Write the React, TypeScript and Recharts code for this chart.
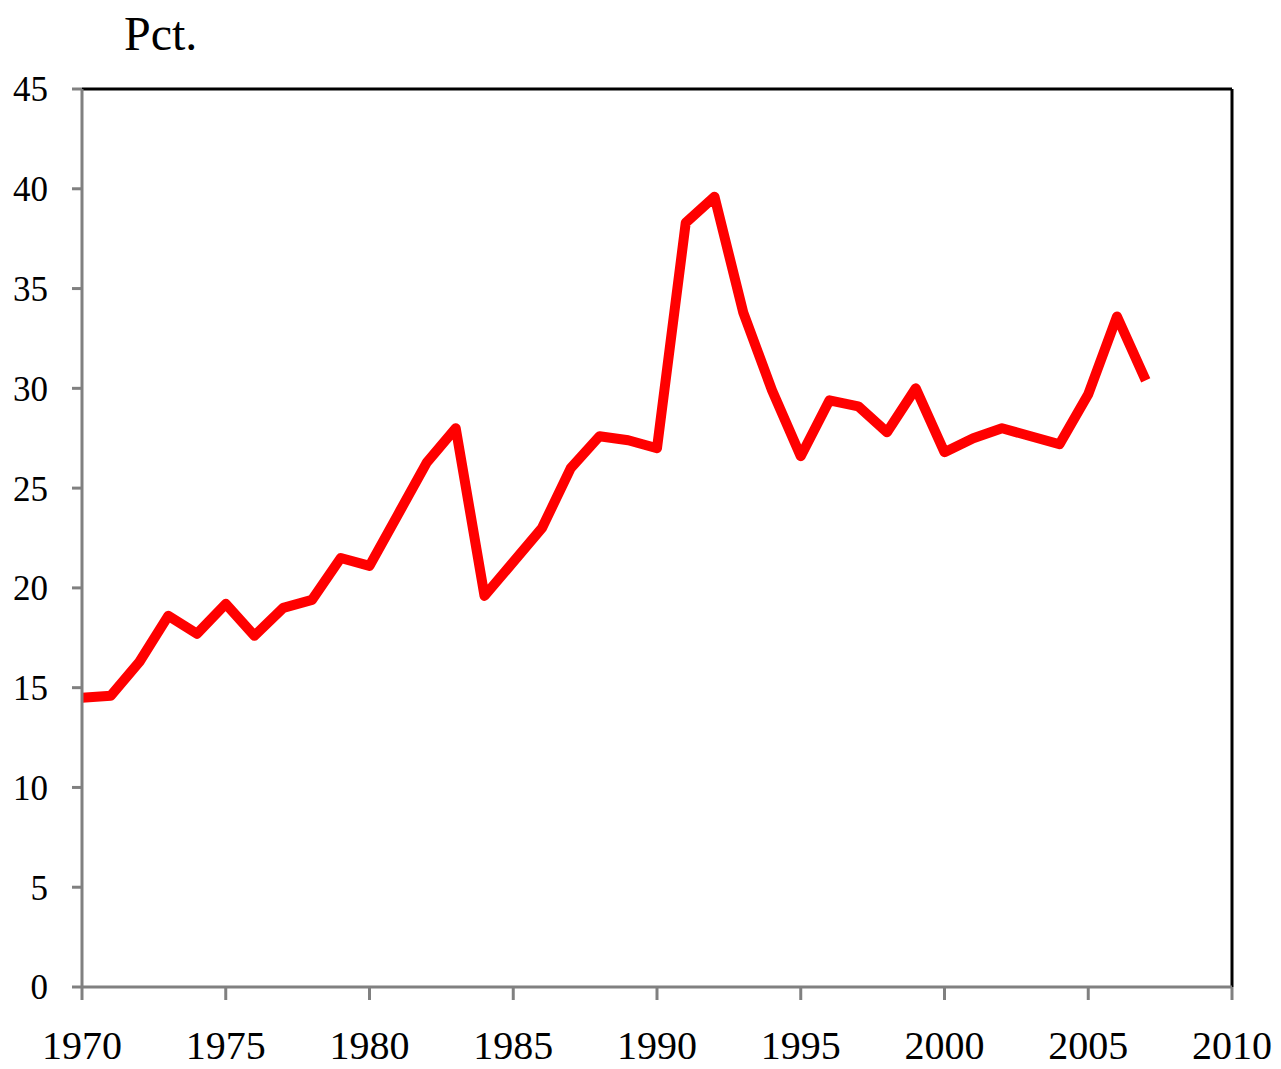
import React from "react";
import { LineChart, Line, XAxis, YAxis, ReferenceLine } from "recharts";

const years = [
  1970, 1971, 1972, 1973, 1974, 1975, 1976, 1977, 1978, 1979,
  1980, 1981, 1982, 1983, 1984, 1985, 1986, 1987, 1988, 1989,
  1990, 1991, 1992, 1993, 1994, 1995, 1996, 1997, 1998, 1999,
  2000, 2001, 2002, 2003, 2004, 2005, 2006, 2007,
];
const pct = [
  14.5, 14.6, 16.3, 18.6, 17.7, 19.2, 17.6, 19.0, 19.4, 21.5,
  21.1, 23.7, 26.3, 28.0, 19.6, 21.3, 23.0, 26.0, 27.6, 27.4,
  27.0, 38.3, 39.6, 33.8, 29.9, 26.6, 29.4, 29.1, 27.8, 30.0,
  26.8, 27.5, 28.0, 27.6, 27.2, 29.7, 33.6, 30.4,
];
const xTicks = [1970, 1975, 1980, 1985, 1990, 1995, 2000, 2005, 2010];
const yTicks = [0, 5, 10, 15, 20, 25, 30, 35, 40, 45];
const yUnit = "Pct.";

const data = years.map((y, i) => ({ year: y, value: pct[i] }));

const serif = "'Liberation Serif', 'Times New Roman', serif";

export default function App() {
  return (
    <div style={{ position: "absolute", left: 0, top: 0, width: 1281, height: 1069, background: "#fff" }}>
      <div
        style={{
          position: "absolute",
          left: 124,
          top: 10,
          fontFamily: serif,
          fontSize: 48,
          lineHeight: "48px",
          color: "#000",
        }}
      >
        {yUnit}
      </div>
      <LineChart
        width={1281}
        height={1069}
        data={data}
        margin={{ top: 89, right: 49, bottom: 22, left: 22 }}
      >
        <XAxis
          dataKey="year"
          type="number"
          domain={[1970, 2010]}
          ticks={xTicks}
          height={60}
          stroke="#808080"
          strokeWidth={3}
          tickSize={13}
          tickMargin={31}
          tick={{ fill: "#000", fontFamily: serif, fontSize: 40 }}
          interval={0}
        />
        <YAxis
          type="number"
          domain={[0, 45]}
          ticks={yTicks}
          width={60}
          stroke="#808080"
          strokeWidth={3}
          tickSize={10}
          tickMargin={24}
          tick={{ fill: "#000", fontFamily: serif, fontSize: 35 }}
          interval={0}
        />
        <ReferenceLine y={45} stroke="#000" strokeWidth={3} />
        <ReferenceLine x={2010} stroke="#000" strokeWidth={3} />
        <Line
          type="linear"
          dataKey="value"
          stroke="#ff0000"
          strokeWidth={10}
          dot={false}
          isAnimationActive={false}
          strokeLinejoin="round"
        />
      </LineChart>
    </div>
  );
}
